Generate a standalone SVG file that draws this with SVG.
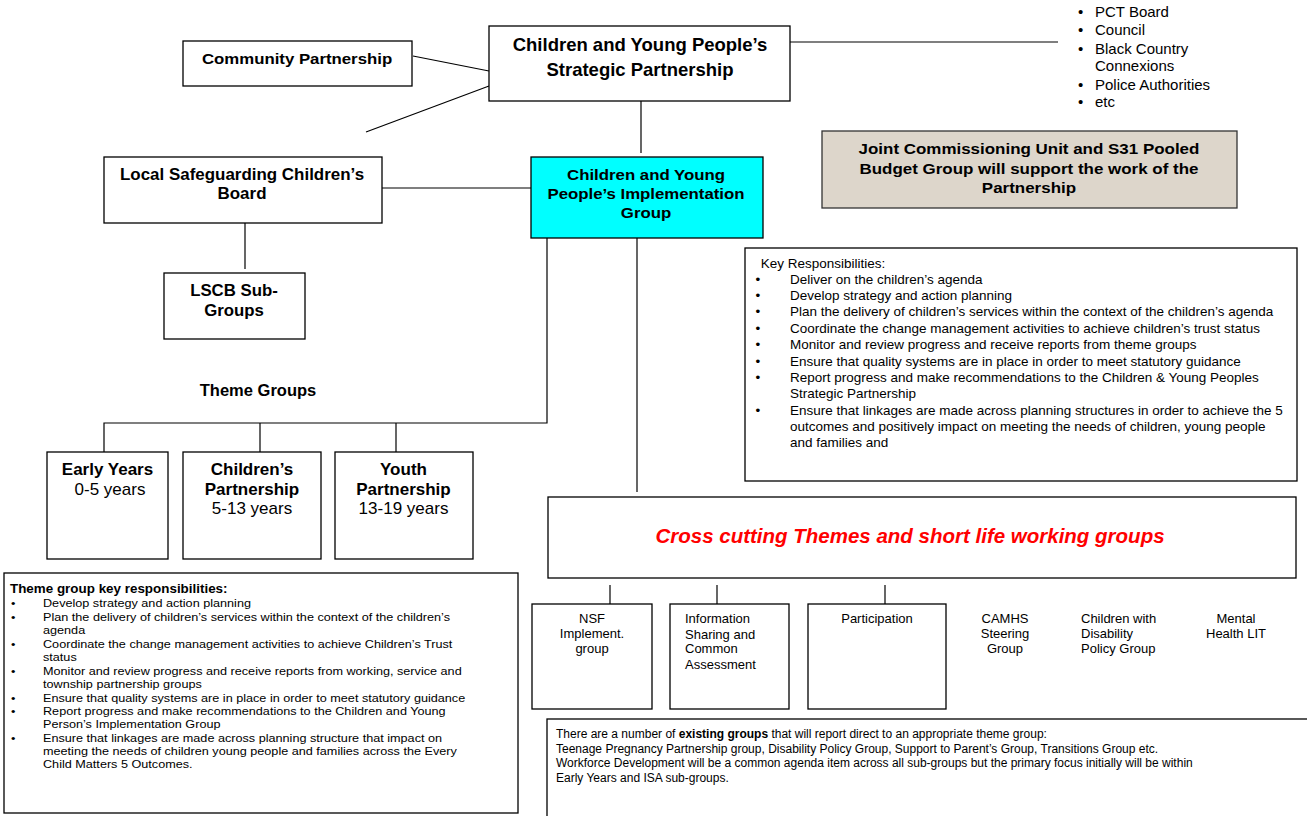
<svg xmlns="http://www.w3.org/2000/svg" width="1307" height="816" viewBox="0 0 1307 816">
<style>
.box{fill:#fff;stroke:#000;stroke-width:1.3}
.ln{stroke:#000;stroke-width:1.2;fill:none}
text{font-family:"Liberation Sans",Arial,sans-serif;fill:#000}
.b{font-weight:bold}
.c{text-anchor:middle}
</style>
<rect width="1307" height="816" fill="#fff"/>
<g id="connectors">
<line class="ln" x1="413" y1="56" x2="489" y2="71"/>
<line class="ln" x1="366" y1="132" x2="489" y2="86"/>
<line class="ln" x1="790" y1="42" x2="1058" y2="42"/>
<line class="ln" x1="641" y1="101" x2="641" y2="153"/>
<line class="ln" x1="382" y1="188" x2="531" y2="188"/>
<line class="ln" x1="245" y1="223" x2="245" y2="269"/>
<polyline class="ln" points="547,238 547,423 104,423 104,452"/>
<line class="ln" x1="260" y1="423" x2="260" y2="452"/>
<line class="ln" x1="396" y1="423" x2="396" y2="452"/>
<line class="ln" x1="637" y1="238" x2="637" y2="492"/>
<line class="ln" x1="610" y1="585" x2="610" y2="604"/>
<line class="ln" x1="717" y1="585" x2="717" y2="604"/>
<line class="ln" x1="885" y1="585" x2="885" y2="604"/>
</g>
<g id="strategic">
<rect class="box" x="489" y="26" width="301" height="75"/>
<text class="b c" x="640" y="51" font-size="18.5">Children and Young People’s</text>
<text class="b c" x="640" y="76" font-size="18.5">Strategic Partnership</text>
</g>
<g id="community">
<rect class="box" x="183" y="41" width="229" height="45"/>
<g transform="matrix(1.12,0,0,1,-35.6,0)"><text class="b c" x="297" y="64" font-size="15">Community Partnership</text></g>
</g>
<g id="partners" font-size="15">
<text x="1078" y="17">•</text><text x="1095" y="17">PCT Board</text>
<text x="1078" y="35">•</text><text x="1095" y="35">Council</text>
<text x="1078" y="54">•</text><text x="1095" y="54">Black Country</text>
<text x="1095" y="71">Connexions</text>
<text x="1078" y="90">•</text><text x="1095" y="90">Police Authorities</text>
<text x="1078" y="107">•</text><text x="1095" y="107">etc</text>
</g>
<g id="joint">
<rect x="822" y="131" width="415" height="77" fill="#ddd6cb" stroke="#333" stroke-width="1.3"/>
<g transform="matrix(1.13,0,0,1,-133.8,0)">
<text class="b c" x="1029" y="154" font-size="15">Joint Commissioning Unit and S31 Pooled</text>
<text class="b c" x="1029" y="174" font-size="15">Budget Group will support the work of the</text>
<text class="b c" x="1029" y="193" font-size="15">Partnership</text>
</g>
</g>
<g id="implementation">
<rect x="531" y="157" width="232" height="81" fill="#00ffff" stroke="#000" stroke-width="1.3"/>
<g transform="matrix(1.12,0,0,1,-77.5,0)">
<text class="b c" x="646" y="180" font-size="15">Children and Young</text>
<text class="b c" x="646" y="199" font-size="15">People’s Implementation</text>
<text class="b c" x="646" y="218" font-size="15">Group</text>
</g>
</g>
<g id="lscb">
<rect class="box" x="104" y="157" width="278" height="66"/>
<g transform="matrix(1.06,0,0,1,-14.5,0)">
<text class="b c" x="242" y="180" font-size="16">Local Safeguarding Children’s</text>
<text class="b c" x="242" y="199" font-size="16">Board</text>
</g>
</g>
<g id="lscb-sub">
<rect class="box" x="164" y="273" width="141" height="66"/>
<g transform="matrix(1.05,0,0,1,-11.7,0)">
<text class="b c" x="234" y="296" font-size="16">LSCB Sub-</text>
<text class="b c" x="234" y="316" font-size="16">Groups</text>
</g>
</g>
<g id="theme-label">
<text class="b c" x="258" y="396" font-size="16.5">Theme Groups</text>
</g>
<g id="early-years">
<rect class="box" x="47" y="452" width="121" height="107"/>
<text class="b c" x="107.5" y="475" font-size="17">Early Years</text>
<text class="c" x="110" y="495" font-size="17">0-5 years</text>
</g>
<g id="childrens-partnership">
<rect class="box" x="183" y="452" width="138" height="107"/>
<text class="b c" x="252" y="475" font-size="17">Children’s</text>
<text class="b c" x="252" y="495" font-size="17">Partnership</text>
<text class="c" x="252" y="514" font-size="17">5-13 years</text>
</g>
<g id="youth-partnership">
<rect class="box" x="335" y="452" width="138" height="107"/>
<text class="b c" x="403.5" y="475" font-size="17">Youth</text>
<text class="b c" x="403.5" y="495" font-size="17">Partnership</text>
<text class="c" x="403.5" y="514" font-size="17">13-19 years</text>
</g>
<g id="key-responsibilities">
<rect class="box" x="745" y="248" width="552" height="233"/>
<g font-size="12.5" transform="matrix(1.08,0,0,1,-63.2,0)">
<text x="763" y="268">Key Responsibilities:</text>
<text x="758" y="284">•</text><text x="790" y="284">Deliver on the children’s agenda</text>
<text x="758" y="300">•</text><text x="790" y="300">Develop strategy and action planning</text>
<text x="758" y="316">•</text><text x="790" y="316">Plan the delivery of children’s services within the context of the children’s agenda</text>
<text x="758" y="333">•</text><text x="790" y="333">Coordinate the change management activities to achieve children’s trust status</text>
<text x="758" y="349">•</text><text x="790" y="349">Monitor and review progress and receive reports from theme groups</text>
<text x="758" y="366">•</text><text x="790" y="366">Ensure that quality systems are in place in order to meet statutory guidance</text>
<text x="758" y="382">•</text><text x="790" y="382">Report progress and make recommendations to the Children &amp; Young Peoples</text>
<text x="790" y="398">Strategic Partnership</text>
<text x="758" y="415">•</text><text x="790" y="415">Ensure that linkages are made across planning structures in order to achieve the 5</text>
<text x="790" y="431">outcomes and positively impact on meeting the needs of children, young people</text>
<text x="790" y="447">and families and</text>
</g>
</g>
<g id="cross-cutting">
<rect class="box" x="548" y="497" width="748" height="81"/>
<text class="b c" x="910" y="543" font-size="20.5" font-style="italic" style="fill:#ff0000">Cross cutting Themes and short life working groups</text>
</g>
<g id="nsf">
<rect class="box" x="532" y="604" width="120" height="105"/>
<g font-size="13" text-anchor="middle"><text x="592" y="623">NSF</text><text x="592" y="638">Implement.</text><text x="592" y="653">group</text></g>
</g>
<g id="information-sharing">
<rect class="box" x="670" y="604" width="119" height="105"/>
<g font-size="13"><text x="685" y="623">Information</text><text x="685" y="639">Sharing and</text><text x="685" y="653">Common</text><text x="685" y="669">Assessment</text></g>
</g>
<g id="participation">
<rect class="box" x="808" y="604" width="138" height="105"/>
<text class="c" x="877" y="623" font-size="13">Participation</text>
</g>
<g id="camhs">
<g font-size="13" text-anchor="middle"><text x="1005" y="623">CAMHS</text><text x="1005" y="638">Steering</text><text x="1005" y="653">Group</text></g>
</g>
<g id="disability">
<g font-size="13"><text x="1081" y="623">Children with</text><text x="1081" y="638">Disability</text><text x="1081" y="653">Policy Group</text></g>
</g>
<g id="mental-health">
<g font-size="13" text-anchor="middle"><text x="1236" y="623">Mental</text><text x="1236" y="638">Health LIT</text></g>
</g>
<g id="existing-groups">
<rect class="box" x="547" y="719" width="770" height="110"/>
<g font-size="12">
<text x="556" y="738">There are a number of <tspan font-weight="bold">existing groups</tspan> that will report direct to an appropriate theme group:</text>
<text x="556" y="753">Teenage Pregnancy Partnership group, Disability Policy Group, Support to Parent’s Group, Transitions Group etc.</text>
<text x="556" y="767">Workforce Development will be a common agenda item across all sub-groups but the primary focus initially will be within</text>
<text x="556" y="782">Early Years and ISA sub-groups.</text>
</g>
</g>
<g id="theme-responsibilities">
<rect class="box" x="4" y="573" width="514" height="240"/>
<g font-size="11.5" transform="matrix(1.1,0,0,1,-4.3,0)">
<text x="13" y="593" font-weight="bold" font-size="12.2">Theme group key responsibilities:</text>
<text x="14" y="607">•</text><text x="43" y="607">Develop strategy and action planning</text>
<text x="14" y="621">•</text><text x="43" y="621">Plan the delivery of children’s services within the context of the children’s</text>
<text x="43" y="634">agenda</text>
<text x="14" y="648">•</text><text x="43" y="648">Coordinate the change management activities to achieve Children’s Trust</text>
<text x="43" y="661">status</text>
<text x="14" y="675">•</text><text x="43" y="675">Monitor and review progress and receive reports from  working, service and</text>
<text x="43" y="688">township partnership groups</text>
<text x="14" y="702">•</text><text x="43" y="702">Ensure that quality systems are in place in order to meet statutory guidance</text>
<text x="14" y="715">•</text><text x="43" y="715">Report progress and make recommendations to the Children and Young</text>
<text x="43" y="728">Person’s Implementation Group</text>
<text x="14" y="742">•</text><text x="43" y="742">Ensure that linkages are made across planning structure that impact on</text>
<text x="43" y="755">meeting the needs of children young people and families across the Every</text>
<text x="43" y="768">Child Matters 5 Outcomes.</text>
</g>
</g>
</svg>
